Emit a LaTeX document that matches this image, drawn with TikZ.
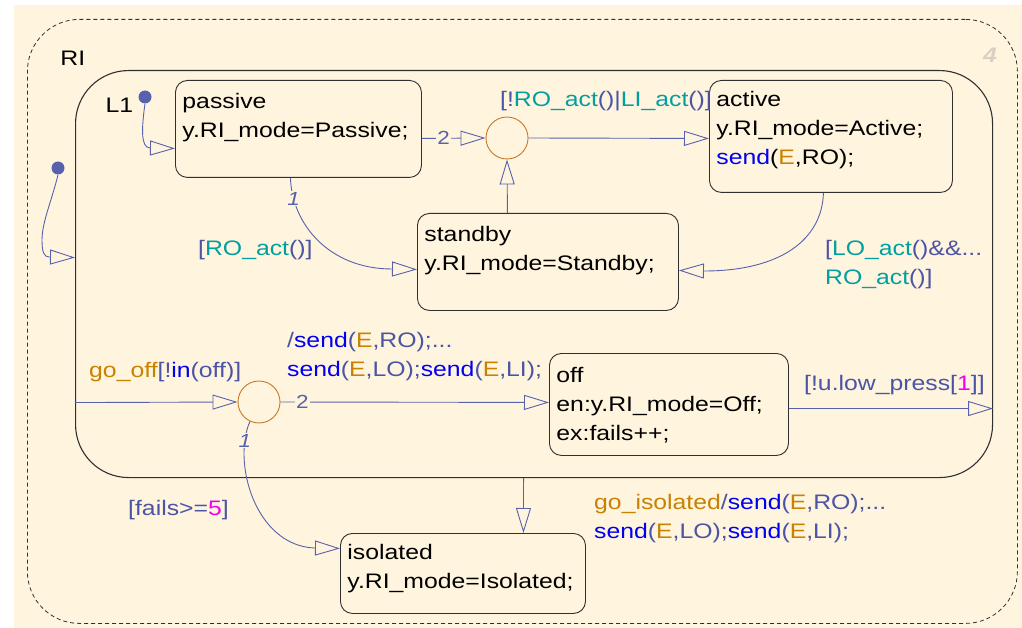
\documentclass[tikz,border=0pt]{standalone}
\usepackage{fontspec}
\setmainfont[FakeStretch=1.18]{Liberation Sans}
\usetikzlibrary{arrows.meta}

\definecolor{chartbg}{RGB}{255,244,222}
\definecolor{stateline}{RGB}{48,48,48}
\definecolor{transline}{RGB}{88,98,172}
\definecolor{junctionline}{RGB}{200,120,40}
\definecolor{sfblue}{RGB}{0,0,240}
\definecolor{sforange}{RGB}{200,130,0}
\definecolor{sfteal}{RGB}{0,160,160}
\definecolor{sfmagenta}{RGB}{240,0,240}
\definecolor{sfgrey}{RGB}{75,85,165}
\definecolor{chartnum}{RGB}{215,208,195}

\newcommand\sfkey[1]{\textcolor{sfblue}{#1}}
\newcommand\sfevent[1]{\textcolor{sforange}{#1}}
\newcommand\sffunc[1]{\textcolor{sfteal}{#1}}
\newcommand\sfnum[1]{\textcolor{sfmagenta}{#1}}

\begin{document}
\begin{tikzpicture}[x=1pt, y=-1pt,
  font=\fontsize{21}{29}\selectfont,
  state/.style={draw=stateline, line width=0.9pt, rounded corners=12pt,
    anchor=north west, align=left, inner xsep=7pt, inner ysep=0pt},
  junction/.style={circle, draw=junctionline, line width=0.9pt,
    minimum size=42pt, inner sep=0pt},
  dot/.style={circle, fill=transline, minimum size=13pt, inner sep=0pt},
  trans/.style={draw=transline, line width=0.9pt,
    -{Triangle[open, length=25pt, width=15pt]}},
  guard/.style={anchor=base west, inner sep=0pt, text=sfgrey, align=left},
  order/.style={fill=chartbg, inner sep=1pt, text=transline,
    font=\fontsize{19}{19}\selectfont}]

\fill[white] (0,0) rectangle (1022,628);
\fill[chartbg] (14,5) rectangle (1022,628);

\node[state, rounded corners=52pt, line width=0.8pt, dash pattern=on 4pt off 3pt,
  inner xsep=33pt, text width=924pt, text height=46pt, text depth=558pt] (RI) at (27,19) {RI};
\node[text=chartnum, font=\fontsize{21}{21}\selectfont\bfseries\itshape] (chartno) at (990,55) {4};
\node[state, rounded corners=53pt, line width=1.1pt,
  inner xsep=30pt, text width=857pt, text height=42pt, text depth=365pt] (L1) at (75,70) {L1};

\node[state, text width=232pt, text height=28pt, text depth=69pt] (passive) at (175,80)
  {passive\\y.RI\_mode=Passive;};
\node[state, text width=229pt, text height=26pt, text depth=86pt] (active) at (709,80)
  {active\\y.RI\_mode=Active;\\\sfkey{send}(\sfevent{E},RO);};
\node[state, text width=247pt, text height=28pt, text depth=69pt] (standby) at (417,213)
  {standby\\y.RI\_mode=Standby;};
\node[state, text width=225pt, text height=29pt, text depth=73pt] (off) at (549,353)
  {off\\en:y.RI\_mode=Off;\\ex:fails++;};
\node[state, text width=231pt, text height=26pt, text depth=54pt] (isolated) at (340,533)
  {isolated\\y.RI\_mode=Isolated;};

\node[junction] (j1) at (507,138) {};
\node[junction] (j2) at (259,402) {};
\node[dot] (l1dot) at (145,97) {};
\node[dot] (ridot) at (58,168) {};

\draw[trans] (ridot.south) .. controls (52,200) and (42,222) .. (42,240)
  .. controls (42,252) and (44,257) .. (49,257) -- ([yshift=16.5pt]L1.west);
\draw[trans] (l1dot.south) .. controls (142,125) and (140,148) .. (150,148)
  -- ([yshift=-19.5pt]passive.west);
\draw[trans] ([yshift=-9.5pt]passive.east) -- node[order, pos=0.34] {2} (j1.west);
\draw[trans] (j1.east) -- ([yshift=-2pt]active.west);
\draw[trans] ([xshift=-40.5pt]standby.north) -- (j1.south);
\draw[trans] ([xshift=-8pt]passive.south) .. controls (292,225) and (330,269) .. (392,269)
  node[order, pos=0.15] {\itshape 1} -- ([yshift=-7.5pt]standby.west);
\draw[trans] ([xshift=-7.5pt]active.south) .. controls (822,240) and (780,271) .. (704,271)
  -- ([yshift=-8.5pt]standby.east);

\draw[trans] ([yshift=-128.5pt]L1.west) -- (j2.west);
\draw[trans] (j2.east) -- node[order, pos=0.082] {2} ([yshift=2pt]off.west);
\draw[trans] ([yshift=-4pt]off.east) -- ([yshift=-134.5pt]L1.east);
\draw[trans] ([xshift=-10.5pt]L1.south) -- ([xshift=60.5pt]isolated.north);
\draw[trans] (j2.245) .. controls (232,462) and (255,545) .. (314,548)
  node[order, pos=0.14] {\itshape 1} -- ([yshift=25pt]isolated.west);

% two-line labels sit on the baseline of their last line
\node[guard] (actguard) at (500,107) {[!\sffunc{RO\_act}()|\sffunc{LI\_act}()]};
\node[guard] (roguard) at (198,255) {[\sffunc{RO\_act}()]};
\node[guard] (loguard) at (825,284) {[\sffunc{LO\_act}()\&\&...\\\sffunc{RO\_act}()]};
\node[guard] (offguard) at (89,377) {\sfevent{go\_off}[!\sfkey{in}(off)]};
\node[guard] (offaction) at (287,376)
  {/\sfkey{send}(\sfevent{E},RO);...\\\sfkey{send}(\sfevent{E},LO);\sfkey{send}(\sfevent{E},LI);};
\node[guard] (pressguard) at (804,390) {[!u.low\_press[\sfnum{1}]]};
\node[guard] (isoaction) at (594,538)
  {\sfevent{go\_isolated}/\sfkey{send}(\sfevent{E},RO);...\\\sfkey{send}(\sfevent{E},LO);\sfkey{send}(\sfevent{E},LI);};
\node[guard] (failguard) at (128,515) {[fails>=\sfnum{5}]};

\end{tikzpicture}
\end{document}
